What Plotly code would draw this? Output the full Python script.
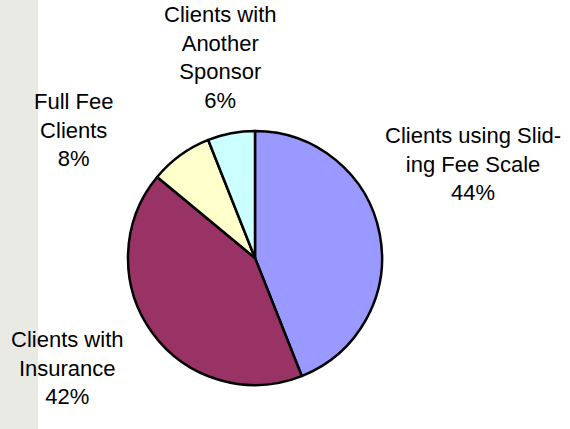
import plotly.graph_objects as go

labels = ["Clients using Sliding Fee Scale", "Clients with Insurance", "Full Fee Clients", "Clients with Another Sponsor"]
label_lines = [["Clients using Slid-", "ing Fee Scale"], ["Clients with", "Insurance"], ["Full Fee", "Clients"], ["Clients with", "Another", "Sponsor"]]
values = [44, 42, 8, 6]
colors = ["#9999FF", "#993366", "#FFFFCC", "#CCFFFF"]

W, H = 570, 429
# label anchor positions (pixel coords converted to paper)
label_px = [(473, 164), (67, 368), (74, 130), (220, 58)]

fig = go.Figure(go.Pie(
    labels=labels,
    values=values,
    sort=False,
    direction="clockwise",
    rotation=0,
    marker=dict(colors=colors, line=dict(color="black", width=2.5)),
    textinfo="none",
    hoverinfo="label+percent",
    domain=dict(x=[128 / W, 382 / W], y=[1 - 385 / H, 1 - 131 / H]),
    showlegend=False,
))

total = sum(values)
for lines, v, (px, py) in zip(label_lines, values, label_px):
    pct = round(100 * v / total)
    fig.add_annotation(
        x=px / W, y=1 - py / H, xref="paper", yref="paper",
        text="<br>".join(lines + [f"{pct}%"]),
        showarrow=False, xanchor="center", yanchor="middle", align="center",
        font=dict(family="Liberation Sans, Arial, sans-serif", size=22, color="black"),
    )

# faint background strip (palm texture area) on the left
fig.add_shape(type="rect", xref="paper", yref="paper", x0=0, x1=38 / W, y0=0, y1=1,
              fillcolor="#e9eae3", line=dict(width=0), layer="below")

fig.update_layout(
    width=W, height=H,
    margin=dict(l=0, r=0, t=0, b=0),
    paper_bgcolor="white", plot_bgcolor="white",
)
fig.write_html("out.html", config={"displayModeBar": False},
               post_script="document.body.style.margin='0';")
